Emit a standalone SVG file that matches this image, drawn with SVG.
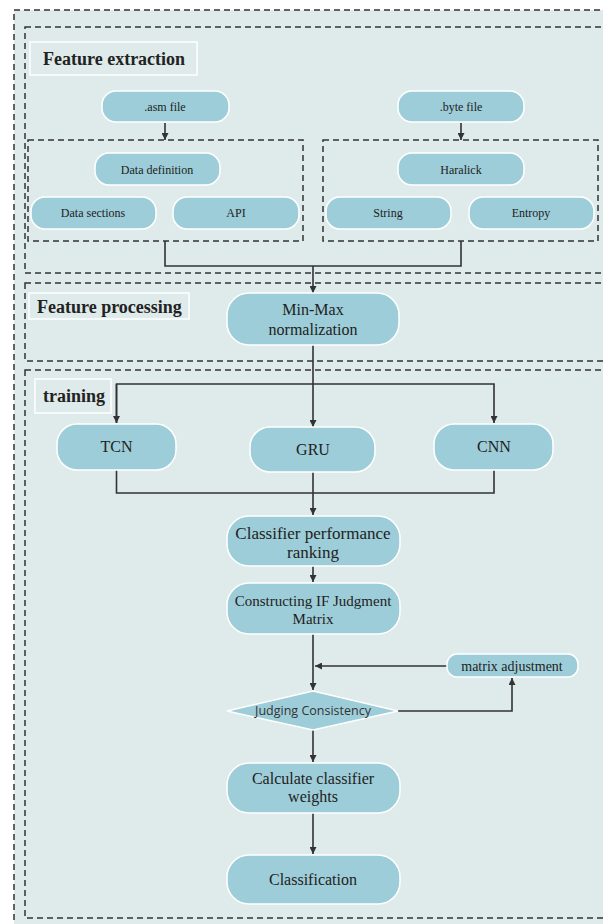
<svg xmlns="http://www.w3.org/2000/svg" width="603" height="924" viewBox="0 0 603 924">
<defs>
<style>
.bg{fill:#dfebeb;stroke:#333;stroke-width:1.5;stroke-dasharray:6 4}
.lbl{fill:#dfebeb;stroke:#fff;stroke-width:1.5}
.node{fill:#9dcdd8;stroke:#fff;stroke-width:1.5}
.t{font-family:"Liberation Serif","Times New Roman",serif;fill:#222;text-anchor:middle}
.s{font-size:12px}
.m{font-size:16px}
.h{font-family:"Liberation Serif","Times New Roman",serif;fill:#222;font-weight:bold;font-size:18px}
.c{fill:none;stroke:#333;stroke-width:1.6}
</style>
<marker id="ah" viewBox="0 0 10 10" refX="10" refY="5" markerWidth="7" markerHeight="7" markerUnits="userSpaceOnUse" orient="auto">
<path d="M0,0 L10,5 L0,10 z" fill="#333"/>
</marker>
</defs>
<rect width="603" height="924" fill="#fff"/>
<rect x="14" y="10" width="620" height="930" class="bg" fill="#e2eaea"/>
<g id="sec-extraction">
<rect x="25" y="27" width="600" height="246" class="bg"/>
<rect x="30" y="42" width="167" height="33" class="lbl"/>
<text x="43" y="65" class="h">Feature extraction</text>
</g>
<g id="sec-processing">
<rect x="25" y="283" width="600" height="78" class="bg"/>
<rect x="29" y="293" width="160" height="26" class="lbl"/>
<text x="37" y="313" class="h">Feature processing</text>
</g>
<g id="sec-training">
<rect x="25" y="370" width="600" height="548" class="bg"/>
<rect x="35" y="379" width="76" height="34" class="lbl"/>
<text x="43" y="402" class="h">training</text>
</g>
<g id="asm-group"><rect x="28" y="140" width="275" height="101" class="bg"/></g>
<g id="byte-group"><rect x="323" y="140" width="275" height="101" class="bg"/></g>
<g id="connectors">
<line x1="165" y1="123" x2="165" y2="140" class="c" marker-end="url(#ah)"/>
<line x1="461" y1="123" x2="461" y2="140" class="c" marker-end="url(#ah)"/>
<polyline points="165,241 165,266 461,266 461,241" class="c"/>
<line x1="313" y1="266" x2="313" y2="293" class="c" marker-end="url(#ah)"/>
<line x1="313" y1="345" x2="313" y2="427" class="c" marker-end="url(#ah)"/>
<polyline points="116.5,423 116.5,384 494,384 494,423" class="c" marker-end="url(#ah)"/>
<line x1="116.5" y1="384" x2="116.5" y2="423" class="c" marker-end="url(#ah)"/>
<polyline points="116.5,470 116.5,493 494,493 494,470" class="c"/>
<line x1="313" y1="472" x2="313" y2="515" class="c" marker-end="url(#ah)"/>
<line x1="313" y1="566" x2="313" y2="582" class="c" marker-end="url(#ah)"/>
<line x1="313" y1="634" x2="313" y2="690" class="c" marker-end="url(#ah)"/>
<line x1="447" y1="666" x2="315" y2="666" class="c" marker-end="url(#ah)"/>
<polyline points="398,711 512,711 512,678" class="c" marker-end="url(#ah)"/>
<line x1="313" y1="730" x2="313" y2="762" class="c" marker-end="url(#ah)"/>
<line x1="313" y1="813" x2="313" y2="854" class="c" marker-end="url(#ah)"/>
</g>
<g id="asm-file"><rect x="102" y="91" width="127" height="31" rx="14" class="node"/><text x="165" y="111" class="t s">.asm file</text></g>
<g id="byte-file"><rect x="398" y="91" width="126" height="31" rx="14" class="node"/><text x="461" y="111" class="t s">.byte file</text></g>
<g id="data-definition"><rect x="95" y="153" width="125" height="32" rx="14" class="node"/><text x="157" y="174" class="t s">Data definition</text></g>
<g id="data-sections"><rect x="31" y="197" width="125" height="32" rx="14" class="node"/><text x="93" y="217" class="t s">Data sections</text></g>
<g id="api"><rect x="173" y="197" width="126" height="32" rx="14" class="node"/><text x="236" y="217" class="t s">API</text></g>
<g id="haralick"><rect x="398" y="153" width="126" height="32" rx="14" class="node"/><text x="461" y="174" class="t s">Haralick</text></g>
<g id="string"><rect x="326" y="197" width="125" height="32" rx="14" class="node"/><text x="388" y="217" class="t s">String</text></g>
<g id="entropy"><rect x="469" y="197" width="125" height="32" rx="14" class="node"/><text x="531" y="217" class="t s">Entropy</text></g>
<g id="minmax"><rect x="227" y="293" width="172" height="52" rx="22" class="node"/><text x="313" y="315" class="t m">Min-Max</text><text x="313" y="335" class="t m">normalization</text></g>
<g id="tcn"><rect x="57" y="424" width="119" height="46" rx="20" class="node"/><text x="116.5" y="452" class="t m">TCN</text></g>
<g id="gru"><rect x="250" y="427" width="125" height="45" rx="20" class="node"/><text x="313" y="455" class="t m">GRU</text></g>
<g id="cnn"><rect x="434" y="424" width="119" height="46" rx="20" class="node"/><text x="494" y="452" class="t m">CNN</text></g>
<g id="ranking"><rect x="227" y="516" width="173" height="50" rx="22" class="node"/><text x="313" y="539" class="t" font-size="17">Classifier performance</text><text x="313" y="558" class="t" font-size="17">ranking</text></g>
<g id="constructing"><rect x="227" y="583" width="173" height="51" rx="22" class="node"/><text x="313" y="606" class="t" font-size="15">Constructing IF Judgment</text><text x="313" y="624" class="t" font-size="15">Matrix</text></g>
<g id="matrix-adjustment"><rect x="447" y="654" width="131" height="23" rx="10" class="node"/><text x="512" y="671" class="t" font-size="14">matrix adjustment</text></g>
<g id="judging"><polygon points="227,711 313,691 398,711 313,730" class="node"/><text x="313" y="715" font-family="'Open Sans','Noto Sans',sans-serif" font-size="12.5" fill="#333" text-anchor="middle">Judging Consistency</text></g>
<g id="weights"><rect x="227" y="763" width="173" height="50" rx="22" class="node"/><text x="313" y="784" class="t m">Calculate classifier</text><text x="313" y="802" class="t m">weights</text></g>
<g id="classification"><rect x="227" y="855" width="173" height="49" rx="22" class="node"/><text x="313" y="885" class="t m">Classification</text></g>
</svg>
